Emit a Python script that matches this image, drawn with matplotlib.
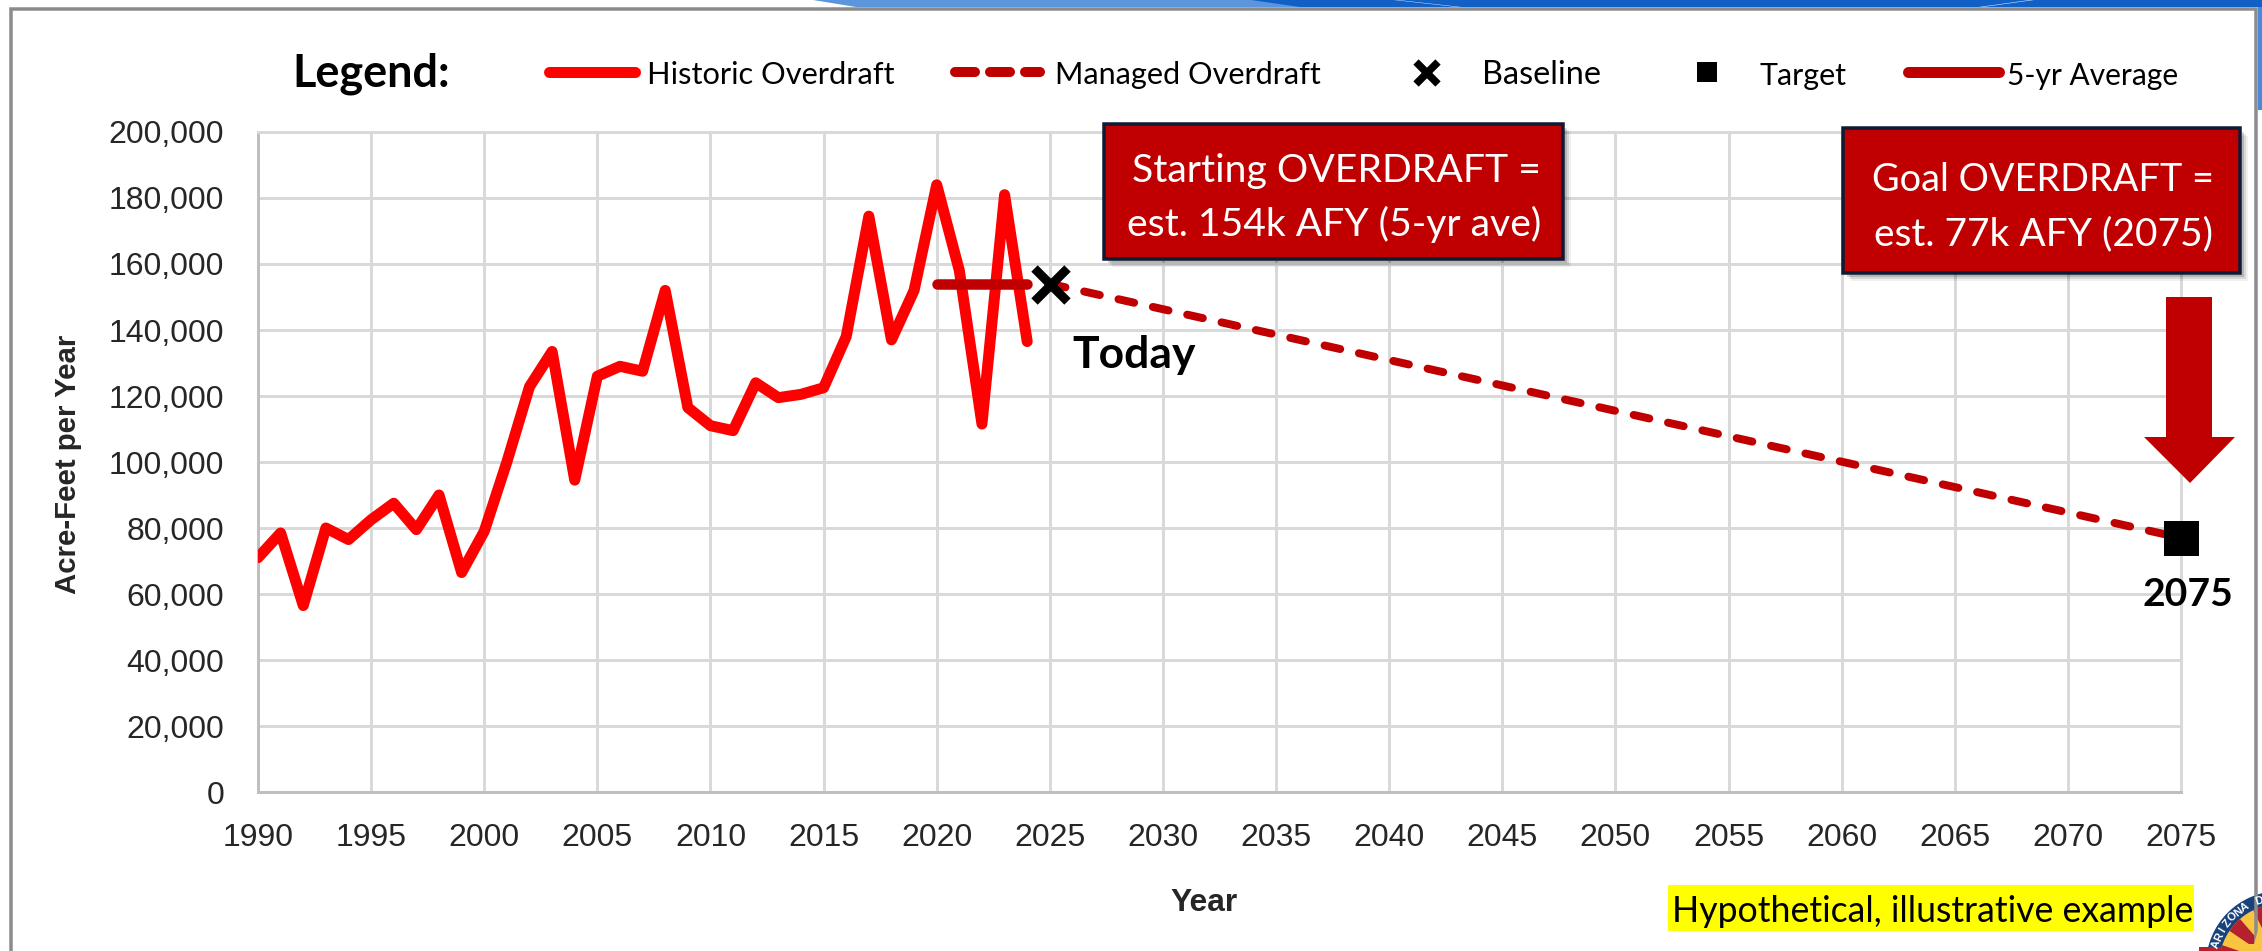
import matplotlib
matplotlib.use("Agg")
import numpy as np
import matplotlib.pyplot as plt
from matplotlib.lines import Line2D
from matplotlib.patches import Rectangle, Polygon, Wedge, Circle

# ---------- data ----------
hist_years = list(range(1990, 2025))
hist_values = [71000, 78500, 56500, 80000, 76500, 82500, 87500, 79500, 90000, 66500,
               79000, 100000, 122800, 133500, 94500, 126000, 129000, 127500, 152000, 116500,
               111000, 109500, 124000, 119500, 120500, 122500, 138000, 174500, 137000, 152000,
               184000, 158000, 111500, 181000, 136500]
avg_years = [2020, 2024]
avg_values = [154000, 154000]
managed_years = [2025, 2075]
managed_values = [154000, 77000]
baseline_year, baseline_value = 2025, 154000
target_year, target_value = 2075, 77000
x_ticks = list(range(1990, 2076, 5))
y_ticks = list(range(0, 200001, 20000))

RED = "#FF0000"
DARK = "#C00000"
W, H = 2262, 951
PT = 72 / 100  # points per pixel at dpi 100

fig = plt.figure(figsize=(W / 100, H / 100), dpi=100, facecolor="white")

# ---------- main axes ----------
L, R, T, B = 258, 2181, 132, 792
ax = fig.add_axes([L / W, 1 - B / H, (R - L) / W, (B - T) / H])
ax.set_xlim(1990, 2075)
ax.set_ylim(0, 200000)
ax.set_xticks(x_ticks)
ax.set_yticks(y_ticks)
ax.set_yticklabels([f"{v:,}" for v in y_ticks])
ax.tick_params(length=0, labelsize=23, labelcolor="#262626", pad=0)
for lab in ax.get_xticklabels() + ax.get_yticklabels():
    lab.set_fontfamily("Liberation Sans")
ax.tick_params(axis="y", pad=34 * PT)
ax.tick_params(axis="x", pad=31 * PT)
ax.grid(True, color="#D9D9D9", lw=3 * PT)
ax.set_axisbelow(True)
for s in ("top", "right"):
    ax.spines[s].set_color("#D9D9D9")
    ax.spines[s].set_linewidth(3 * PT)
for s in ("left", "bottom"):
    ax.spines[s].set_color("#BFBFBF")
    ax.spines[s].set_linewidth(3 * PT)

ax.plot(hist_years, hist_values, color=RED, lw=11 * PT, solid_joinstyle="round",
        solid_capstyle="round", clip_on=True, zorder=3)
ax.plot(managed_years, managed_values, color=DARK, lw=8 * PT, dashes=(2.0, 2.4),
        dash_capstyle="round", clip_on=False, zorder=3)
ax.plot(avg_years, avg_values, color=DARK, lw=10.5 * PT, solid_capstyle="round",
        clip_on=False, zorder=4)
ax.plot([baseline_year], [baseline_value], marker="x", color="black", ms=33 * PT,
        mew=9 * PT, ls="none", clip_on=False, zorder=5)
ax.plot([target_year], [target_value], marker="s", color="black", ms=35 * PT,
        mew=0, ls="none", clip_on=False, zorder=5)

# ---------- overlay in pixel coordinates ----------
ov = fig.add_axes([0, 0, 1, 1], zorder=10)
ov.set_xlim(0, W)
ov.set_ylim(H, 0)
ov.set_axis_off()
ov.patch.set_alpha(0)
rend = fig.canvas.get_renderer()


def fit(x0, x1, yc, text, family="Lato", weight="normal", color="black", **kw):
    """Text scaled so that it spans x0..x1."""
    t = ov.text((x0 + x1) / 2, yc, text, family=family, weight=weight, color=color, fontsize=20,
                ha="center", va="center", **kw)
    t.set_fontsize(20 * (x1 - x0) / t.get_window_extent(rend).width)
    return t


# slide chrome
ov.add_patch(Polygon([(813, 0), (2262, 0), (2262, 7), (856, 7)], fc="#5B96DD", ec="none"))
ov.add_patch(Polygon([(1251, 0), (2262, 0), (2262, 7), (1300, 7)], fc="#1160C6", ec="none"))
ov.add_patch(Polygon([(1394, 0), (1398, 0), (1461, 7), (1457, 7)], fc="#DCE8F7", ec="none"))
ov.add_patch(Polygon([(2030, 0), (2034, 0), (1983, 7), (1979, 7)], fc="#DCE8F7", ec="none"))
ov.add_patch(Rectangle((2258, 7), 4, 103, fc="#4A88DC", ec="none"))
ov.plot([11, 11, 2256, 2256], [H, 8.5, 8.5, H], color="#8C8C8C", lw=3.5 * PT,
        solid_joinstyle="miter")

# legend
fit(292, 450, 74, "Legend:", weight="bold")
ov.add_line(Line2D([549, 635], [72, 72], color=RED, lw=11 * PT, solid_capstyle="round"))
fit(647, 895, 75, "Historic Overdraft")
ov.add_line(Line2D([955, 1040], [72, 72], color=DARK, lw=10 * PT, dashes=(2.0, 1.5),
                   dash_capstyle="round"))
fit(1054, 1321, 75, "Managed Overdraft")
ov.add_line(Line2D([1427], [73], marker="x", color="black", ms=23 * PT, mew=7.5 * PT, ls="none"))
fit(1482, 1601, 75, "Baseline")
ov.add_line(Line2D([1706.5], [72], marker="s", color="black", ms=20 * PT, mew=0, ls="none"))
fit(1760, 1847, 76, "Target")
ov.add_line(Line2D([1908, 1999], [72, 72], color=DARK, lw=11 * PT, solid_capstyle="round"))
fit(2007, 2178, 76, "5-yr Average")

# callout boxes
for (x0, y0, x1, y1) in [(1104, 124, 1563, 259), (1843, 128, 2240, 273)]:
    for off, a in [(8, 0.06), (6, 0.10), (4, 0.15)]:
        ov.add_patch(Rectangle((x0 + off, y0 + off), x1 - x0, y1 - y0, fc="black", ec="none", alpha=a))
    ov.add_patch(Rectangle((x0, y0), x1 - x0, y1 - y0, fc=DARK, ec="#0F1A33", lw=3.5 * PT))
fit(1132, 1540, 171, "Starting OVERDRAFT =", color="white")
fit(1127, 1542, 224, "est. 154k AFY (5-yr ave)", color="white")
fit(1872, 2213, 180, "Goal OVERDRAFT =", color="white")
fit(1874, 2213, 234, "est. 77k AFY (2075)", color="white")

# arrow
ov.add_patch(Polygon([(2166, 297), (2212, 297), (2212, 437), (2235, 437), (2190, 483),
                      (2144, 437), (2166, 437)], fc=DARK, ec="none"))

# annotations
fit(1073, 1196, 355, "Today", weight="bold")
fit(2142, 2233, 595, "2075", weight="bold")
ov.add_patch(Rectangle((1668, 885), 526, 46, fc="#FFFF00", ec="none"))
fit(1671, 2194, 911, "Hypothetical, illustrative example")

# axis titles
fit(1171, 1238, 903, "Year", family="Liberation Sans", weight="bold", color="#262626")
t = ov.text(68, 464, "Acre-Feet per Year", family="Liberation Sans", weight="bold", color="#262626",
            fontsize=20, ha="center", va="center", rotation=90)
t.set_fontsize(20 * 259 / t.get_window_extent(rend).height)

# seal, bottom right
cx, cy = 2280, 965
ov.add_patch(Circle((cx, cy), 74, fc="#17427C", ec="none"))
ov.add_patch(Circle((cx, cy), 61, fc="#F9C440", ec="none"))
for a in np.arange(180, 360, 30):
    ov.add_patch(Wedge((cx, cy), 61, a + 4, a + 19, fc="#B5202E", ec="none"))
ov.add_line(Line2D([2258], [950], marker="*", color="#F9C440", ms=40 * PT, mew=0, ls="none"))
letters = "ARIZONA D"
for ch, ang in zip(letters, np.linspace(198, 252, len(letters))):
    rad = np.deg2rad(ang)
    px, py = cx + 67.5 * np.cos(rad), cy + 67.5 * np.sin(rad)
    ov.text(px, py, ch, color="white", fontsize=8, family="Liberation Sans", weight="bold",
            ha="center", va="center", rotation=270 - ang, rotation_mode="anchor")
ov.add_patch(Rectangle((2199, 947), 22, 4, fc="#B5202E", ec="none"))
ov.set_xlim(0, W)
ov.set_ylim(H, 0)

fig.savefig("out.png", dpi=100)
